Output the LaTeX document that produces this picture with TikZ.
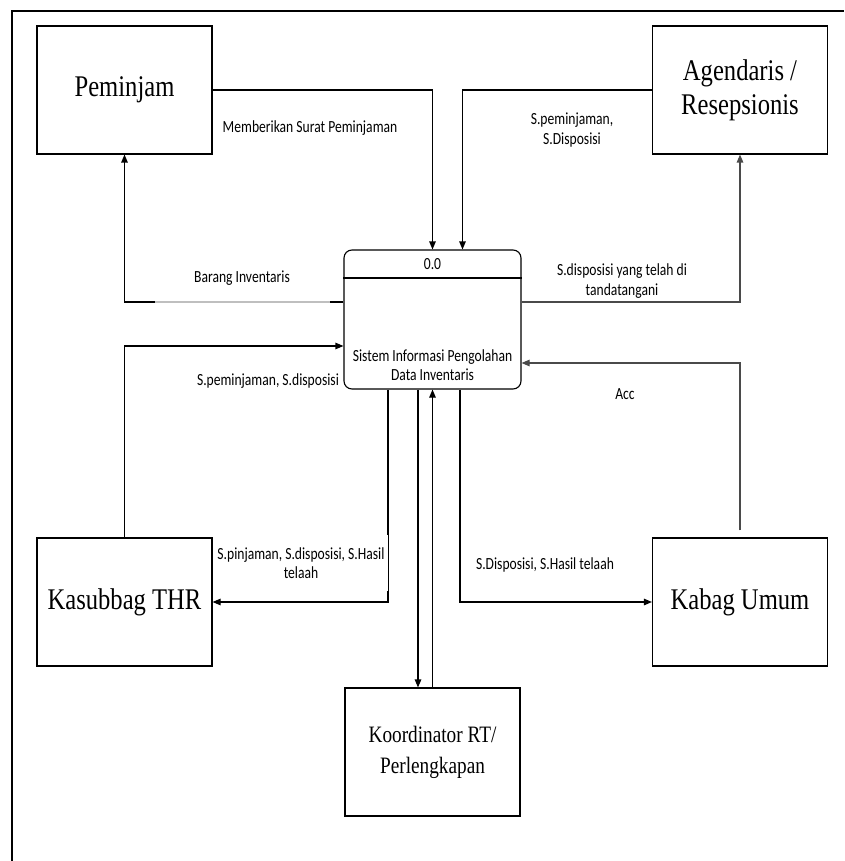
\documentclass[tikz,border=0pt]{standalone}
\usepackage{fontspec}
\setmainfont{Liberation Serif}[FakeStretch=0.82]
\newfontfamily\flowfont{Carlito}[FakeStretch=0.8]
\usetikzlibrary{arrows.meta}
\definecolor{linegray}{HTML}{4A4A4A}

\tikzset{
  entity/.style={draw, line width=1.1pt, fill=white, minimum width=175pt,
    minimum height=128pt, align=center, font=\fontsize{30}{34}\selectfont},
  flow/.style={line width=1.1pt, -{Triangle[length=8pt,width=6.5pt]}},
  flowtext/.style={align=center, font=\flowfont\fontsize{17}{19.5}\selectfont}
}

\begin{document}
\begin{tikzpicture}[x=1pt, y=-1pt]
    \useasboundingbox (0,0) rectangle (844,861);

    % Frame
    \draw[line width=2.8pt] (12,861) -- (12,11) -- (844,11);

    % External entities
    \node[entity] (peminjam) at (124.5,90) {Peminjam};
    \node[entity] (agendaris) at (740,90) {Agendaris /\\Resepsionis};
    \node[entity] (kasubbag) at (124.5,602) {Kasubbag THR};
    \node[entity] (kabag) at (740,602) {Kabag Umum};
    \node[entity, font=\fontsize{23.5}{31}\selectfont] (koordinator) at (432.5,752) {Koordinator RT/\\Perlengkapan};

    % Process 0.0
    \node[draw, line width=1.1pt, rounded corners=8pt, fill=white,
          minimum width=177pt, minimum height=139pt] (proses) at (432.5,319.5) {};
    \draw[line width=1.1pt] (proses.west |- 0,278) -- (proses.east |- 0,278);
    \node[flowtext] (prosesid) at (432.5,264) {0.0};
    \node[flowtext] (prosesnama) at (432.5,365) {Sistem Informasi Pengolahan\\Data Inventaris};

    % Flows on top
    \draw[flow] (peminjam.east) -| (proses.north);
    \node[flowtext] (lblsurat) at (310,128) {Memberikan Surat Peminjaman};
    \draw[flow] (agendaris.west) -| ([xshift=30pt]proses.north);
    \node[flowtext] (lblagenda) at (572,130) {S.peminjaman,\\S.Disposisi};

    % Flows left
    \draw[flow] (proses.west |- 0,302) -| (peminjam.south);
    \node[flowtext, fill=white, fill opacity=0.75, text opacity=1,
          minimum width=175pt, minimum height=52pt] (lblbarang) at (242,278) {Barang Inventaris};
    \draw[flow] (kasubbag.north) |- (proses.west |- 0,346);
    \node[flowtext] (lblkasubbag) at (268,381) {S.peminjaman, S.disposisi};

    % Flows right
    \draw[flow, linegray] (proses.east |- 0,302) -| (agendaris.south);
    \node[flowtext] (lblttd) at (622,281) {S.disposisi yang telah di\\tandatangani};
    \draw[flow, linegray] ([yshift=7pt]kabag.north) |- (proses.east |- 0,363);
    \node[flowtext] (lblacc) at (625,394) {Acc};

    % Flows below
    \draw[flow] (proses.south -| 388,0) |- (kasubbag.east);
    \node[flowtext, fill=white, minimum width=172pt, minimum height=56pt] (lblpinjam) at (301,563)
        {S.pinjaman, S.disposisi, S.Hasil\\telaah};
    \draw[flow] (proses.south -| 460,0) |- (kabag.west);
    \node[flowtext] (lblkabag) at (545,565) {S.Disposisi, S.Hasil telaah};
    \draw[flow] (proses.south -| 418,0) -- (koordinator.north -| 418,0);
    \draw[flow] (koordinator.north) -- (proses.south);
\end{tikzpicture}
\end{document}
